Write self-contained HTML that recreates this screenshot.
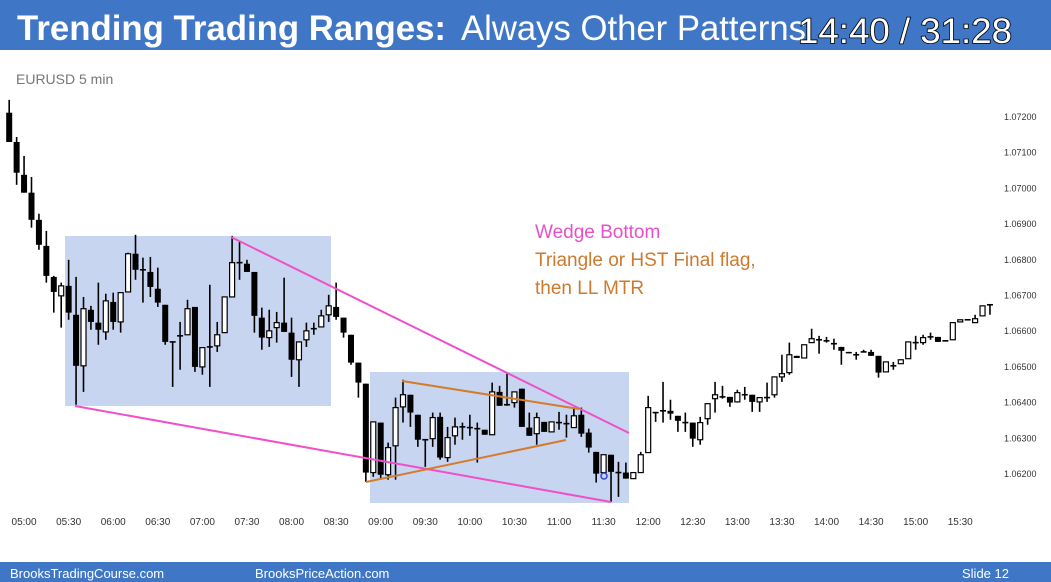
<!DOCTYPE html>
<html><head><meta charset="utf-8">
<style>
html,body{margin:0;padding:0;background:#fff;width:1051px;height:582px;overflow:hidden;font-family:"Liberation Sans",sans-serif;}
svg{display:block}
</style></head>
<body>
<svg id="chart" width="1051" height="582" viewBox="0 0 1051 582" xmlns="http://www.w3.org/2000/svg">
  <rect x="0" y="0" width="1051" height="50" fill="#3f77c6"/>
  <text x="17" y="40" font-size="35" font-weight="bold" fill="#fff" textLength="429" lengthAdjust="spacingAndGlyphs">Trending Trading Ranges:</text>
  <text x="461" y="40" font-size="35" fill="#fff" textLength="345" lengthAdjust="spacingAndGlyphs">Always Other Patterns</text>
  <text x="798" y="43" font-size="35" fill="#fff" stroke="#000" stroke-width="1.6" paint-order="stroke" textLength="214" lengthAdjust="spacingAndGlyphs">14:40 / 31:28</text>
  <text x="16" y="84" font-size="14" fill="#777">EURUSD 5 min</text>

  <rect x="65" y="236" width="266" height="170" fill="#c7d5f0"/>
  <rect x="370" y="372" width="259" height="131" fill="#c7d5f0"/>
  <g id="candles"></g>
  <g id="yaxis"></g>
  <g id="xaxis"></g>

  <line x1="231" y1="237" x2="629" y2="433" stroke="#f050c8" stroke-width="2"/>
  <line x1="75" y1="406" x2="611" y2="502" stroke="#f050c8" stroke-width="2"/>
  <line x1="402" y1="381" x2="579" y2="409" stroke="#d27c2c" stroke-width="2"/>
  <line x1="366" y1="482" x2="566" y2="440" stroke="#d27c2c" stroke-width="2"/>
  <circle cx="604" cy="476" r="3" fill="none" stroke="#3344dd" stroke-width="1.5"/>

  <text x="535" y="238" font-size="19" fill="#e650c8">Wedge Bottom</text>
  <text x="535" y="266" font-size="19" fill="#cd7a2e">Triangle or HST Final flag,</text>
  <text x="535" y="294" font-size="19" fill="#cd7a2e">then LL MTR</text>

  <rect x="0" y="562" width="1051" height="20" fill="#3f77c6"/>
  <text x="10" y="578" font-size="13" fill="#fff">BrooksTradingCourse.com</text>
  <text x="255" y="578" font-size="13" fill="#fff">BrooksPriceAction.com</text>
  <text x="962" y="578" font-size="13" fill="#fff">Slide  12</text>
</svg>
<script>
// OHLC prices in units of 0.00001 (e.g. 107212 = 1.07212)
const opens = [107212,107130,107038,106988,106912,106839,106752,106699,106727,106646,106503,106660,106624,106598,106682,106626,106710,106817,106772,106766,106719,106674,106570,106582,106590,106668,106500,106556,106559,106596,106696,106792,106789,106766,106638,106582,106610,106624,106596,106520,106576,106607,106612,106646,106668,106638,106590,106512,
106453,106204,106344,106198,106279,106388,106422,106366,106296,106299,106360,106246,106307,106332,106330,106327,106324,106310,106430,106394,106400,106439,106330,106313,106346,106318,106344,106341,106330,106366,106316,106262,106204,106254,106204,106204,106187,106204,106260,106372,106372,106377,106363,106344,106344,106296,106355,106411,106416,106416,106402,106422,106422,106402,106414,106422,106472,106484,106531,106525,106568,106576,106573,106565,106556,106542,106534,106542,106542,106531,106486,106503,106509,106523,106568,106568,106584,106584,106573,106576,106626,106632,106624,106643,106674];
const highs = [107248,107144,107091,107032,106929,106881,106755,106736,106800,106752,106696,106671,106736,106705,106708,106708,106820,106870,106806,106808,106778,106674,106570,106626,106688,106668,106554,106730,106626,106696,106867,106850,106800,106766,106666,106660,106654,106750,106638,106570,106624,106624,106660,106702,106736,106638,106590,106512,
106453,106346,106344,106288,106414,106464,106422,106366,106296,106372,106372,106332,106358,106344,106366,106344,106324,106456,106447,106481,106430,106439,106372,106372,106346,106346,106374,106366,106386,106386,106327,106262,106254,106254,106234,106232,106204,106262,106419,106372,106458,106408,106363,106372,106344,106360,106397,106458,106447,106416,106436,106444,106422,106414,106456,106472,106534,106568,106531,106562,106607,106587,106584,106579,106556,106542,106542,106548,106548,106531,106514,106514,106520,106570,106587,106590,106596,106584,106573,106624,106632,106632,106646,106671,106674];
const lows = [107130,107010,106988,106890,106828,106736,106652,106610,106632,106394,106430,106604,106562,106576,106604,106596,106710,106744,106680,106696,106668,106562,106444,106492,106590,106486,106478,106444,106542,106596,106696,106744,106766,106596,106548,106556,106568,106598,106472,106444,106556,106590,106612,106626,106632,106582,106506,106414,
106178,106192,106184,106184,106184,106344,106332,106276,106220,106276,106240,106234,106282,106296,106307,106232,106310,106310,106391,106391,106386,106332,106307,106282,106318,106318,106324,106302,106330,106304,106260,106176,106204,106122,106136,106187,106187,106204,106260,106346,106344,106352,106318,106318,106276,106282,106338,106372,106411,106388,106400,106408,106374,106374,106402,106414,106458,106478,106525,106525,106568,106537,106568,106548,106506,106540,106520,106542,106531,106470,106486,106492,106509,106523,106548,106562,106576,106570,106573,106576,106626,106632,106624,106643,106646];
const closes = [107130,107044,106988,106912,106842,106755,106710,106727,106652,106503,106663,106626,106604,106685,106626,106708,106817,106772,106772,106724,106680,106570,106570,106587,106663,106500,106554,106556,106590,106696,106792,106792,106766,106643,106582,106601,106624,106598,106520,106570,106601,106607,106643,106671,106640,106596,106512,106456,
106204,106346,106198,106274,106386,106422,106372,106296,106296,106358,106246,106302,106332,106332,106330,106327,106310,106430,106391,106394,106430,106332,106307,106358,106318,106346,106344,106341,106363,106313,106274,106201,106254,106206,106204,106187,106204,106254,106386,106372,106377,106369,106349,106344,106299,106344,106397,106422,106416,106400,106428,106422,106402,106414,106414,106472,106481,106534,106525,106562,106579,106576,106573,106565,106545,106540,106534,106542,106531,106484,106514,106503,106520,106570,106568,106582,106584,106570,106573,106624,106632,106632,106635,106671,106674];
const priceTicks = [107200,107100,107000,106900,106800,106700,106600,106500,106400,106300,106200];
const timeLabels = ["05:00","05:30","06:00","06:30","07:00","07:30","08:00","08:30","09:00","09:30","10:00","10:30","11:00","11:30","12:00","12:30","13:00","13:30","14:00","14:30","15:00","15:30"];

const NS = "http://www.w3.org/2000/svg";
function yScale(p){ return 117 + (107200 - p) * 0.3570; }
function xScale(i){ return 9.2 + i * 7.43; }
function mk(tag, attrs, parent){ const e = document.createElementNS(NS, tag); for (const k in attrs) e.setAttribute(k, attrs[k]); parent.appendChild(e); return e; }

const cg = document.getElementById('candles');
for (let i = 0; i < opens.length; i++) {
  const x = xScale(i), o = opens[i], c = closes[i];
  const g = mk('g', {}, cg);
  
  
  mk('line', {x1:x, x2:x, y1:yScale(highs[i]), y2:yScale(lows[i]), stroke:'#000', 'stroke-width':1.6}, g);
  const top = yScale(Math.max(o, c)), bot = yScale(Math.min(o, c));
  const h = Math.max(bot - top, 1.5);
  if (c < o) mk('rect', {x:x-3, y:top, width:6, height:h, fill:'#000'}, g);
  else if (bot - top < 2) mk('line', {x1:x-3, x2:x+3, y1:top, y2:top, stroke:'#000', 'stroke-width':1.6}, g);
  else mk('rect', {x:x-2.5, y:top, width:5, height:h, fill:'#fff', stroke:'#000', 'stroke-width':1.2}, g);
}

const yg = document.getElementById('yaxis');
priceTicks.forEach(p => {
  const t = mk('text', {x:1004, y:yScale(p)+3, 'font-size':9, fill:'#333'}, yg);
  
  
  t.textContent = (p / 100000).toFixed(5);
});

const xg = document.getElementById('xaxis');
timeLabels.forEach((lab, k) => {
  const t = mk('text', {x:xScale(2 + 6*k), y:525, 'font-size':10, fill:'#333', 'text-anchor':'middle'}, xg);
  
  
  t.textContent = lab;
});
</script>
</body></html>
